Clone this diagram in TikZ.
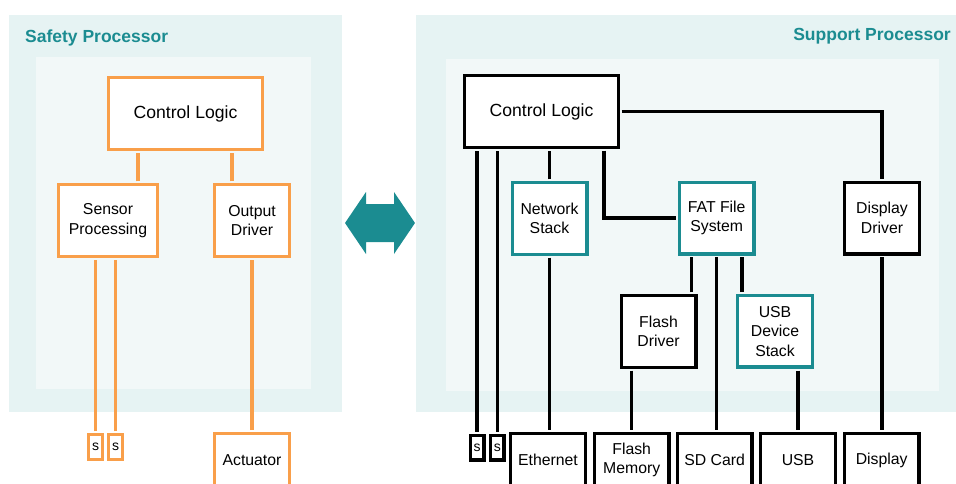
\documentclass[tikz,border=0pt]{standalone}
\usepackage{fontspec}
\setmainfont{Liberation Sans}
\definecolor{safeorange}{HTML}{F99F4A}
\definecolor{supteal}{HTML}{1B8C91}
\definecolor{outerbg}{HTML}{E6F3F3}
\definecolor{innerbg}{HTML}{F2F8F8}

\begin{document}
\begin{tikzpicture}[x=1pt,y=-1pt,
    block/.style={draw=black,fill=white,line width=3.4pt,inner sep=2pt,align=center,
      minimum width=74.6pt,minimum height=71.6pt,font=\fontsize{15.8}{19.5}\selectfont},
    safe/.style={draw=safeorange},
    stack/.style={draw=supteal},
    wide/.style={minimum width=153.6pt,font=\fontsize{17.6}{20}\selectfont},
    dev/.style={minimum height=53pt},
    sbox/.style={minimum width=13.6pt,minimum height=24.6pt,inner sep=0pt,font=\fontsize{14}{16}\selectfont},
    wire/.style={line width=3.4pt,shorten <=1.7pt,shorten >=1.7pt},
    title/.style={font=\fontsize{17.5}{20}\selectfont\bfseries,text=supteal,inner sep=0pt}]
  \useasboundingbox (0,0) rectangle (956,484);
  \clip (0,0) rectangle (956,484);
  \fill[outerbg] (9,15) rectangle (342,412);
  \fill[innerbg] (36,57) rectangle (311,389);
  \fill[outerbg] (416,15) rectangle (960,412);
  \fill[innerbg] (446,59) rectangle (939,391);
  \node[title,anchor=west] (safetitle) at (25,38) {Safety Processor};
  \node[title,anchor=east] (suptitle) at (951,36) {Support Processor};

  \node[block,safe,wide] (scl) at (185.5,113.5) {Control Logic};
  \node[block,safe,minimum width=98.6pt] (sp) at (108,220.5) {Sensor\\Processing};
  \node[block,safe] (od) at (252,220.5) {Output\\Driver};
  \node[block,safe,sbox] (s1) at (95.5,447) {s};
  \node[block,safe,sbox] (s2) at (115.5,447) {s};
  \node[block,safe,dev] (act) at (252,460) {Actuator};
  \draw[wire,safeorange] ([xshift=30pt]sp.north) -- ([xshift=30pt]sp.north |- scl.south);
  \draw[wire,safeorange] ([xshift=-20pt]od.north) -- ([xshift=-20pt]od.north |- scl.south);
  \draw[wire,safeorange] (s1.north) -- (s1.north |- sp.south);
  \draw[wire,safeorange] (s2.north) -- (s2.north |- sp.south);
  \draw[wire,safeorange] (act.north) -- (od.south);

  \coordinate (link) at (380,223);
  \fill[supteal] ([xshift=-35pt]link) -- ++(21,-31) -- ++(0,12) -- ++(28,0) -- ++(0,-12)
    -- ++(21,31) -- ++(-21,31) -- ++(0,-12) -- ++(-28,0) -- ++(0,12) -- cycle;

  \node[block,wide] (cl) at (541.5,111.5) {Control Logic};
  \node[block,stack] (ns) at (549.5,218.5) {Network\\Stack};
  \node[block,stack] (fat) at (716.7,218) {FAT File\\System};
  \node[block] (dd) at (882,218) {Display\\Driver};
  \node[block] (fd) at (658.5,331.5) {Flash\\Driver};
  \node[block,stack] (usbs) at (775,331.3) {USB\\Device\\Stack};
  \node[block,sbox] (r1) at (477,447.5) {s};
  \node[block,sbox] (r2) at (497.3,447.5) {s};
  \node[block,dev] (eth) at (548,460) {Ethernet};
  \node[block,dev] (fm) at (631.7,460) {Flash\\Memory};
  \node[block,dev] (sd) at (714.7,460) {SD Card};
  \node[block,dev] (usb) at (798,460) {USB};
  \node[block,dev] (disp) at (881.7,460) {Display};
  \draw[wire] (r1.north) -- (r1.north |- cl.south);
  \draw[wire] (r2.north) -- (r2.north |- cl.south);
  \draw[wire] (ns.north) -- (ns.north |- cl.south);
  \draw[wire] (ns.south) -- (ns.south |- eth.north);
  \draw[wire] ([xshift=62.5pt]cl.south) |- (fat.west);
  \draw[wire] (cl.east) -| (dd.north);
  \draw[wire] (dd.south) -- (dd.south |- disp.north);
  \draw[wire] ([xshift=33pt]fd.north) -- ([xshift=33pt]fd.north |- fat.south);
  \draw[wire] (fat.south) -- (fat.south |- sd.north);
  \draw[wire] ([xshift=-33pt]usbs.north) -- ([xshift=-33pt]usbs.north |- fat.south);
  \draw[wire] (fd.south -| fm.north) -- (fm.north);
  \draw[wire] (usbs.south -| usb.north) -- (usb.north);
\end{tikzpicture}
\end{document}
